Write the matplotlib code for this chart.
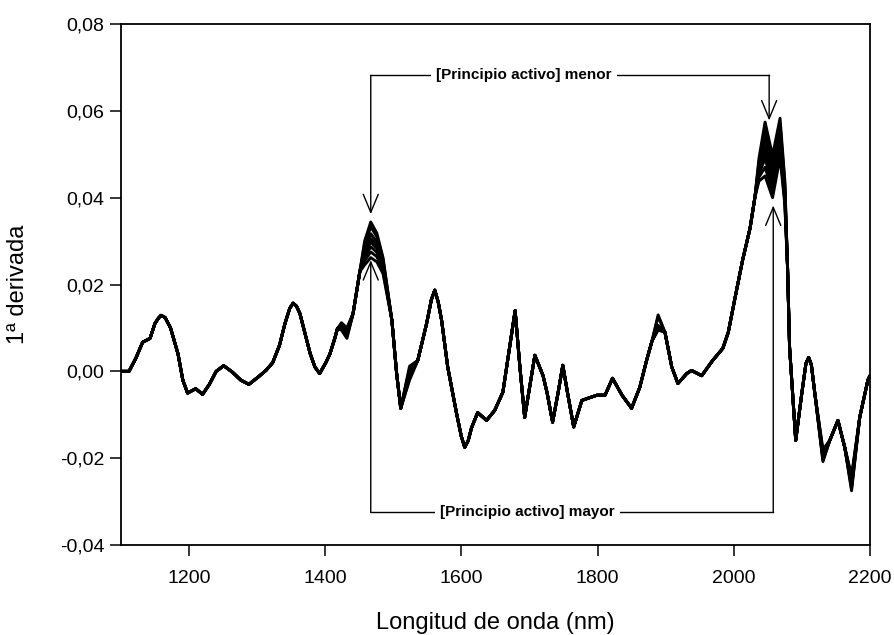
import matplotlib
matplotlib.use("Agg")
from matplotlib import pyplot as plt
from matplotlib.ticker import FuncFormatter

plt.rcParams['font.family'] = ['Liberation Sans', 'DejaVu Sans']

# wavelength grid (nm)
wavelength = [1100, 1112, 1122, 1132, 1143, 1150, 1155, 1159, 1165, 1173,
              1184, 1191, 1198, 1210, 1220, 1230, 1240, 1251, 1264, 1276,
              1288, 1301, 1313, 1323, 1333, 1341, 1348, 1353, 1358, 1363,
              1370, 1378, 1385, 1392, 1401, 1407, 1414, 1418, 1424, 1432,
              1441, 1451, 1458, 1467, 1476, 1485, 1498, 1505, 1511, 1524,
              1536, 1549, 1556, 1561, 1566, 1571, 1580, 1593, 1600, 1605,
              1610, 1615, 1624, 1637, 1649, 1661, 1679, 1686, 1693, 1708,
              1720, 1726, 1734, 1742, 1749, 1756, 1765, 1777, 1786, 1799,
              1811, 1822, 1836, 1850, 1862, 1872, 1880, 1889, 1899, 1909,
              1918, 1931, 1938, 1953, 1969, 1984, 1992, 2002, 2013, 2024,
              2031, 2037, 2046, 2057, 2068, 2075, 2079, 2082, 2091, 2100,
              2106, 2110, 2114, 2119, 2131, 2141, 2153, 2163, 2173, 2185,
              2197, 2200]

# common shape of the spectra (1st derivative)
base = [0.0, 0.0, 0.003, 0.0067, 0.0076, 0.011, 0.0122, 0.0129, 0.0124, 0.010,
        0.004, -0.002, -0.005, -0.004, -0.0053, -0.003, 0.0, 0.0013, -0.0002, -0.002,
        -0.003, -0.0014, 0.0002, 0.002, 0.006, 0.011, 0.0145, 0.0157, 0.0150, 0.0133,
        0.009, 0.0041, 0.001, -0.0005, 0.002, 0.004, 0.0075, 0.0098, 0.0105, 0.0088,
        0.0133, 0.023, 0.027, 0.030, 0.028, 0.024, 0.0118, -0.0005, -0.0085, -0.0005,
        0.0025, 0.011, 0.0165, 0.0187, 0.0160, 0.0118, 0.001, -0.0097, -0.0150, -0.0175,
        -0.0160, -0.013, -0.0095, -0.0113, -0.009, -0.0048, 0.014, 0.001, -0.0106, 0.0037,
        -0.001, -0.005, -0.0117, -0.005, 0.0014, -0.005, -0.0128, -0.0067, -0.0062, -0.0055,
        -0.0055, -0.0016, -0.0055, -0.0085, -0.0037, 0.0025, 0.007, 0.010, 0.009, 0.001,
        -0.0028, -0.0005, 0.0002, -0.001, 0.0025, 0.0053, 0.0090, 0.017, 0.0256, 0.033,
        0.040, 0.047, 0.051, 0.045, 0.054, 0.041, 0.024, 0.0055, -0.0159, -0.005,
        0.0018, 0.0032, 0.0015, -0.005, -0.0195, -0.0159, -0.0113, -0.0175, -0.0255, -0.0106,
        -0.002, -0.001]

# values of the 8 samples where the spectra separate
sample_values = {
    1424: [0.0112, 0.0110, 0.0108, 0.0105, 0.0103, 0.0100, 0.0098, 0.0095],
    1432: [0.0100, 0.0096, 0.0093, 0.0090, 0.0087, 0.0084, 0.0080, 0.0076],
    1458: [0.0300, 0.0292, 0.0285, 0.0277, 0.0270, 0.0263, 0.0255, 0.0245],
    1467: [0.0344, 0.0333, 0.0317, 0.0306, 0.0298, 0.0287, 0.0275, 0.0262],
    1476: [0.0318, 0.0310, 0.0298, 0.0290, 0.0283, 0.0274, 0.0264, 0.0252],
    1485: [0.0262, 0.0258, 0.0252, 0.0248, 0.0243, 0.0238, 0.0232, 0.0225],
    1524: [0.0012, 0.0006, 0.0002, -0.0003, -0.0007, -0.0012, -0.0016, -0.0020],
    1889: [0.0130, 0.0126, 0.0106, 0.0103, 0.0101, 0.0099, 0.0097, 0.0095],
    2037: [0.0490, 0.0482, 0.0475, 0.0468, 0.0462, 0.0455, 0.0447, 0.0438],
    2046: [0.0574, 0.0555, 0.0535, 0.0517, 0.0503, 0.0490, 0.0470, 0.0450],
    2057: [0.0497, 0.0482, 0.0467, 0.0453, 0.0442, 0.0430, 0.0415, 0.0400],
    2068: [0.0583, 0.0570, 0.0556, 0.0543, 0.0532, 0.0520, 0.0506, 0.0493],
    2075: [0.0440, 0.0432, 0.0424, 0.0416, 0.0408, 0.0400, 0.0392, 0.0384],
    2131: [-0.0180, -0.0185, -0.0190, -0.0195, -0.0198, -0.0202, -0.0205, -0.0208],
    2173: [-0.0240, -0.0245, -0.0250, -0.0255, -0.0260, -0.0265, -0.0270, -0.0275],
}
nSamples = 8

fig = plt.figure(figsize=(8.95, 6.35), dpi=100)
ax = fig.add_axes([0.135, 0.1417, 0.837, 0.8205])

for s in range(nSamples):
    spec = list(base)
    for w, vals in sample_values.items():
        spec[wavelength.index(w)] = vals[s]
    ax.plot(wavelength, spec, color="black", lw=2.1,
            solid_joinstyle="round", solid_capstyle="round")

ax.set_xlim(1100, 2200)
ax.set_ylim(-0.04, 0.08)
ax.set_xticks([1200, 1400, 1600, 1800, 2000, 2200])
ax.set_yticks([-0.04, -0.02, 0.0, 0.02, 0.04, 0.06, 0.08])
ax.yaxis.set_major_formatter(FuncFormatter(lambda v, p: ("%.2f" % v).replace(".", ",").replace("-0,00", "0,00")))
ax.tick_params(direction="out", length=8, width=1.1, labelsize=14, top=False, right=False)
ax.tick_params(axis="x", pad=10)
ax.tick_params(axis="y", pad=4)
for sp in ax.spines.values():
    sp.set_linewidth(1.3)

ax.set_xlabel("Longitud de onda (nm)", fontsize=17, labelpad=18)
ax.set_ylabel("1ª derivada", fontsize=17, labelpad=22)

# brackets with arrows
arrow = dict(arrowstyle="->,head_length=0.65,head_width=0.27", color="black", lw=1.0,
             shrinkA=0, shrinkB=0, mutation_scale=20)
topY = 0.0682
ax.plot([1467, 2052], [topY, topY], color="black", lw=1.0, zorder=5)
ax.annotate("", xy=(1467, 0.0362), xytext=(1467, topY), arrowprops=arrow, zorder=5)
ax.annotate("", xy=(2052, 0.0578), xytext=(2052, topY), arrowprops=arrow, zorder=5)
ax.text(1692, topY, "[Principio activo] menor", ha="center", va="center", fontsize=11,
        fontweight="bold", zorder=6,
        bbox=dict(facecolor="white", edgecolor="none", pad=4))

botY = -0.0325
ax.plot([1467, 2058], [botY, botY], color="black", lw=1.0, zorder=5)
ax.annotate("", xy=(1467, 0.0256), xytext=(1467, botY), arrowprops=arrow, zorder=5)
ax.annotate("", xy=(2058, 0.0382), xytext=(2058, botY), arrowprops=arrow, zorder=5)
ax.text(1697, botY, "[Principio activo] mayor", ha="center", va="center", fontsize=11,
        fontweight="bold", zorder=6,
        bbox=dict(facecolor="white", edgecolor="none", pad=4))

fig.savefig("out.png", dpi=100)
